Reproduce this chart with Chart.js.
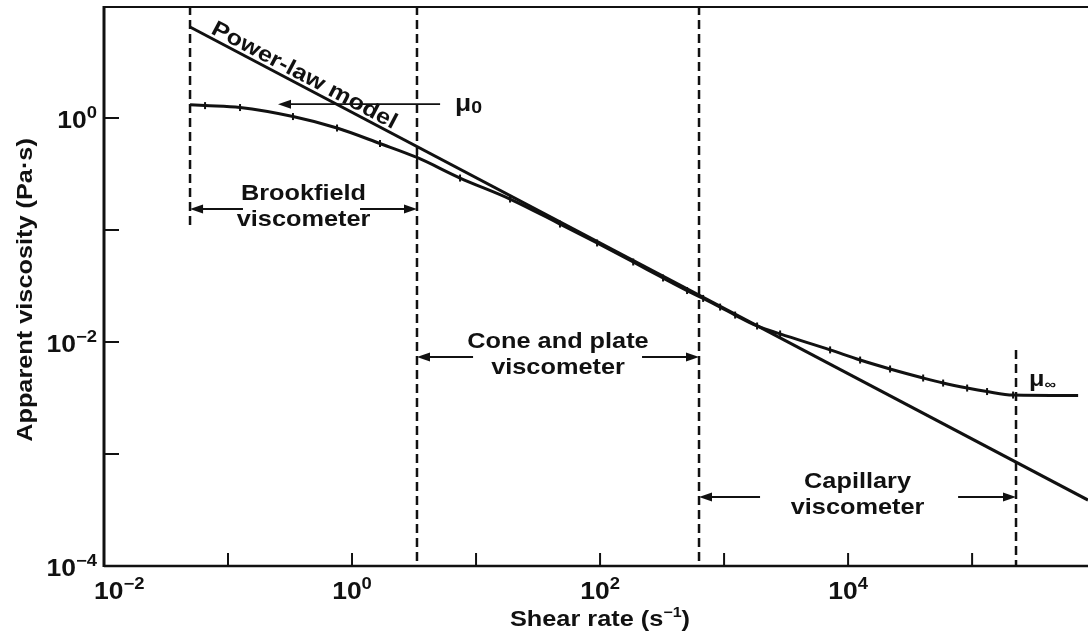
<!DOCTYPE html>
<html>
<head>
<meta charset="utf-8">
<script src="https://cdn.jsdelivr.net/npm/chart.js@4.4.1/dist/chart.umd.min.js"></script>
<style>
  html, body { margin: 0; padding: 0; background: #fff; }
  #wrap { width: 1088px; height: 633px; }
</style>
</head>
<body>
<div id="wrap"><canvas id="viscChart" width="1088" height="633"></canvas></div>
<script>
// measured flow curve: shear rate (1/s) and apparent viscosity (Pa·s)
const shearRate = [0.0494, 0.0653, 0.125, 0.334, 0.757, 1.68, 3.34, 7.43, 18.8, 47.5, 94.6, 185, 322, 503, 678, 929, 1228, 1846, 2830, 7160, 12500, 21800, 40300, 58400, 91200, 132000, 214000, 716000];
const viscosity = [1.31, 1.29, 1.24, 1.03, 0.814, 0.592, 0.444, 0.291, 0.189, 0.113, 0.0766, 0.0518, 0.0373, 0.0288, 0.0245, 0.0205, 0.0174, 0.0139, 0.0118, 0.0085, 0.0069, 0.00574, 0.00477, 0.0043, 0.00388, 0.00361, 0.00336, 0.00333];

// power-law model line
const powerLawRate = [0.0494, 860000];
const powerLawVisc = [6.49, 0.000388];

// viscometer boundaries (dashed verticals)
const boundaryRate = [0.0494, 3.34, 628, 226000];
const boundaryTop = [10, 10, 10, 0.0085];
const boundaryBottom = [0.111, 0.0001, 0.0001, 0.0001];

// range arrows: tail positions and height of each pair
const rangeNames = [['Brookfield', 'viscometer'], ['Cone and plate', 'viscometer'], ['Capillary', 'viscometer']];
const rangeTailLeft = [0.132, 9.46, 1950];
const rangeTailRight = [1.16, 218, 77100];
const rangeArrowVisc = [0.154, 0.00735, 0.000413];

// zero-shear viscosity arrow
const mu0Visc = 1.33;
const mu0From = 5.13;
const mu0To = 0.253;

// axis ticks
const xMajor = [0.1, 1, 10, 100, 1000, 10000, 100000];
const xLabelExp = [-2, 0, 2, 4];
const yMajor = [1, 0.1, 0.01, 0.001];
const yLabelExp = [0, -2, -4];

const ink = '#111';
const FONT = '"Liberation Sans", Arial, sans-serif';
const STRETCH = 1.15; // the lettering is set a bit wide

function pts(xs, ys) {
  return xs.map((v, i) => ({ x: v, y: ys[i] }));
}

function seg(ctx, x1, y1, x2, y2, w) {
  ctx.lineWidth = w;
  ctx.beginPath();
  ctx.moveTo(x1, y1);
  ctx.lineTo(x2, y2);
  ctx.stroke();
}

function arrow(ctx, fromX, toX, yy) {
  const dir = Math.sign(toX - fromX);
  seg(ctx, fromX, yy, toX - dir * 10, yy, 1.8);
  ctx.beginPath();
  ctx.moveTo(toX, yy);
  ctx.lineTo(toX - dir * 13, yy - 4.5);
  ctx.lineTo(toX - dir * 13, yy + 4.5);
  ctx.closePath();
  ctx.fill();
}

// text made of runs with their own size and vertical shift (for super/subscripts)
function runs(ctx, parts, x, y, align) {
  let total = 0;
  parts.forEach(p => {
    ctx.font = `bold ${p.size}px ${FONT}`;
    p.w = ctx.measureText(p.t).width;
    total += p.w;
  });
  const start = align === 'center' ? x - total * STRETCH / 2 : align === 'right' ? x - total * STRETCH : x;
  ctx.save();
  ctx.translate(start, y);
  ctx.scale(STRETCH, 1);
  ctx.textAlign = 'left';
  let cx = 0;
  parts.forEach(p => {
    ctx.font = `bold ${p.size}px ${FONT}`;
    ctx.fillText(p.t, cx, p.dy || 0);
    cx += p.w;
  });
  ctx.restore();
}

function expLabel(e) {
  return [{ t: '10', size: 23 }, { t: e < 0 ? '\u2212' + (-e) : String(e), size: 16, dy: -10 }];
}

const decorations = {
  id: 'decorations',
  afterDatasetsDraw(chart) {
    const { ctx, chartArea: a, scales: { x, y } } = chart;
    ctx.save();
    ctx.strokeStyle = ink;
    ctx.fillStyle = ink;
    ctx.textBaseline = 'alphabetic';

    // frame
    seg(ctx, a.left, a.top, a.left, a.bottom + 1, 3);
    seg(ctx, a.left, a.bottom, a.right, a.bottom, 2.5);
    seg(ctx, a.left, a.top + 1, a.right, a.top + 1, 2);

    // inward ticks
    xMajor.forEach(v => {
      const px = x.getPixelForValue(v);
      seg(ctx, px, a.bottom, px, a.bottom - 13, 2);
    });
    yMajor.forEach(v => {
      const py = y.getPixelForValue(v);
      seg(ctx, a.left, py, a.left + 15, py, 2);
    });

    // tick labels
    xLabelExp.forEach((e, i) => {
      const px = x.getPixelForValue(Math.pow(10, e));
      if (i === 0) runs(ctx, expLabel(e), px - 10, a.bottom + 33, 'left');
      else runs(ctx, expLabel(e), px, a.bottom + 33, 'center');
    });
    yLabelExp.forEach(e => {
      const py = y.getPixelForValue(Math.pow(10, e));
      runs(ctx, expLabel(e), a.left - 7, py + 10, 'right');
    });

    // axis titles
    runs(ctx, [{ t: 'Shear rate (s', size: 22 }, { t: '\u22121', size: 14, dy: -9 }, { t: ')', size: 22 }], 600, 626, 'center');
    ctx.save();
    ctx.translate(32, 290);
    ctx.rotate(-Math.PI / 2);
    runs(ctx, [{ t: 'Apparent viscosity (Pa\u00b7s)', size: 22 }], 0, 0, 'center');
    ctx.restore();

    // viscometer ranges
    rangeNames.forEach((names, i) => {
      const yy = y.getPixelForValue(rangeArrowVisc[i]);
      const xl = x.getPixelForValue(boundaryRate[i]);
      const xr = x.getPixelForValue(boundaryRate[i + 1]);
      arrow(ctx, x.getPixelForValue(rangeTailLeft[i]), xl, yy);
      arrow(ctx, x.getPixelForValue(rangeTailRight[i]), xr, yy);
      const mid = (xl + xr) / 2;
      runs(ctx, [{ t: names[0], size: 22 }], mid, yy - 9, 'center');
      runs(ctx, [{ t: names[1], size: 22 }], mid, yy + 17, 'center');
    });

    // zero-shear viscosity
    const m0y = y.getPixelForValue(mu0Visc);
    const m0x = x.getPixelForValue(mu0From);
    arrow(ctx, m0x, x.getPixelForValue(mu0To), m0y);
    runs(ctx, [{ t: '\u03bc', size: 23 }, { t: '0', size: 17, dy: 2 }], m0x + 15, m0y + 7, 'left');

    // infinite-shear viscosity
    const last = boundaryRate.length - 1;
    const minfX = x.getPixelForValue(boundaryRate[last]);
    const minfY = y.getPixelForValue(viscosity[viscosity.length - 2]);
    runs(ctx, [{ t: '\u03bc', size: 22 }, { t: '\u221e', size: 14, dy: 3 }], minfX + 13, minfY - 9, 'left');

    // label along the power-law line
    const p1x = x.getPixelForValue(powerLawRate[0]), p1y = y.getPixelForValue(powerLawVisc[0]);
    const p2x = x.getPixelForValue(powerLawRate[1]), p2y = y.getPixelForValue(powerLawVisc[1]);
    const ang = Math.atan2(p2y - p1y, p2x - p1x);
    const slope = (p2y - p1y) / (p2x - p1x);
    const sx = p1x + 18;
    const sy = p1y + slope * 18;
    ctx.save();
    ctx.translate(sx + Math.sin(ang) * 4, sy - Math.cos(ang) * 4);
    ctx.rotate(ang);
    runs(ctx, [{ t: 'Power-law model', size: 22 }], 0, 0, 'left');
    ctx.restore();

    ctx.restore();
  }
};

const dashed = boundaryRate.map((r, i) => ({
  data: [{ x: r, y: boundaryTop[i] }, { x: r, y: boundaryBottom[i] }],
  borderColor: ink,
  borderWidth: 2.5,
  borderDash: [9, 5],
  pointRadius: 0
}));

new Chart(document.getElementById('viscChart'), {
  type: 'line',
  data: {
    datasets: [
      {
        data: pts(powerLawRate, powerLawVisc),
        borderColor: ink,
        borderWidth: 3,
        pointRadius: 0
      },
      {
        data: pts(shearRate, viscosity),
        borderColor: ink,
        borderWidth: 3,
        cubicInterpolationMode: 'monotone',
        pointStyle: 'line',
        rotation: 90,
        pointRadius: shearRate.map((v, i) => (i === 0 || i === shearRate.length - 1) ? 0 : 3.5),
        pointBorderWidth: 2,
        pointBorderColor: ink
      },
      ...dashed
    ]
  },
  options: {
    responsive: false,
    animation: false,
    events: [],
    layout: { padding: { top: 6, right: 0, bottom: 0, left: 0 } },
    plugins: { legend: { display: false }, tooltip: { enabled: false } },
    scales: {
      x: {
        type: 'logarithmic',
        min: 0.01,
        max: 860000,
        grid: { display: false },
        border: { display: false },
        ticks: { display: false },
        afterFit: s => { s.height = 67; }
      },
      y: {
        type: 'logarithmic',
        min: 0.0001,
        max: 10,
        grid: { display: false },
        border: { display: false },
        ticks: { display: false },
        afterFit: s => { s.width = 104; }
      }
    }
  },
  plugins: [decorations]
});
</script>
</body>
</html>
